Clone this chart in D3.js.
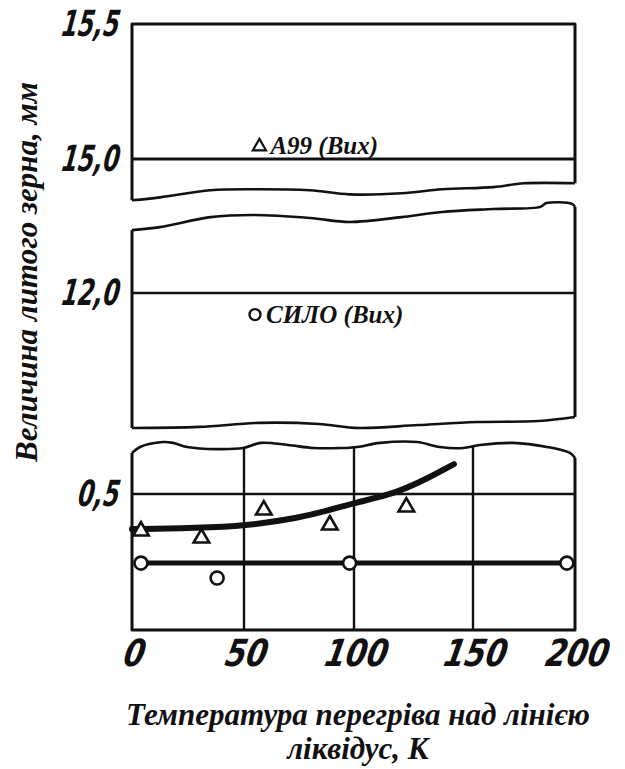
<!DOCTYPE html>
<html>
<head>
  <meta charset="utf-8">
  <title>Величина литого зерна</title>
  <style>
    body { margin: 0; background: #fff; }
    svg { display: block; background: #fff; }
  </style>
</head>
<body>
<svg width="625" height="769"></svg>
<script src="https://cdn.jsdelivr.net/npm/d3@7/dist/d3.min.js"></script>
<script>
// --- дані ---
var xTicks = [0, 50, 100, 150, 200];
var topTicks = [15.0, 15.5];
var midTicks = [12.0];
var botTicks = [0.5];

// А99 (трикутники)
var a99X = [4, 31, 59, 89, 122];
var a99Y = [0.364, 0.338, 0.441, 0.386, 0.452];
// СИЛО (кола)
var siloX = [4, 38, 98, 196];
var siloY = [0.246, 0.191, 0.246, 0.246];

// апроксимуючі лінії
var a99FitX = [0, 30, 50, 75, 89, 100, 115, 128, 142];
var a99FitY = [0.371, 0.375, 0.382, 0.412, 0.441, 0.467, 0.496, 0.544, 0.61];
var siloFitX = [4, 196];
var siloFitY = [0.246, 0.246];

// вихідна величина зерна
var initX = [57, 55];
var initY = [15.05, 11.92];
var initLabels = ["А99 (Вих)", "СИЛО (Вих)"];

// лінії розриву осі (в одиницях осей)
var topWaveX = [0, 12.5, 35, 54, 80, 98, 120, 137, 160, 175, 200];
var topWaveY = [14.847, 14.858, 14.884, 14.888, 14.884, 14.869, 14.873, 14.888, 14.896, 14.91, 14.91];
var midTopWaveX = [0, 12.5, 35, 54, 80, 98, 120, 137, 160, 183, 186, 198.5, 200];
var midTopWaveY = [12.233, 12.244, 12.281, 12.289, 12.278, 12.263, 12.281, 12.3, 12.311, 12.319, 12.333, 12.33, 12.319];
var midBotWaveX = [0, 30, 57, 84, 102, 127, 152, 182, 200];
var midBotWaveY = [11.5, 11.504, 11.519, 11.515, 11.5, 11.511, 11.522, 11.526, 11.541];
var botWaveX = [0, 3.6, 13.8, 18.3, 24.6, 37.9, 49.6, 57.7, 70, 81.8, 94, 101.3, 111, 126.5, 136, 145.8, 153.4, 169.6, 186.3, 197.5, 200];
var botWaveY = [0.651, 0.673, 0.691, 0.688, 0.673, 0.665, 0.669, 0.688, 0.68, 0.669, 0.669, 0.673, 0.688, 0.691, 0.673, 0.669, 0.68, 0.688, 0.673, 0.651, 0.632];

// --- шкали ---
var svg = d3.select("svg");

var x = d3.scaleLinear().domain(xTicks).range([132, 244, 354, 473, 575]);
var yTop = d3.scaleLinear().domain([15.0, 15.5]).range([159, 24]);
var yMid = d3.scaleLinear().domain([11.5, 12.0]).range([428, 293]);
var yBot = d3.scaleLinear().domain([0, 0.5]).range([630, 494]);

function zip(a, b) { return a.map(function(v, i) { return [v, b[i]]; }); }

function lineFor(ys, curve) {
  return d3.line()
    .x(function(d) { return x(d[0]); })
    .y(function(d) { return ys(d[1]); })
    .curve(curve || d3.curveLinear);
}

var ink = "#111";

// --- верхня панель ---
var gTop = svg.append("g");
var topWaveAt = d3.scaleLinear().domain(topWaveX).range(topWaveY);
gTop.append("path")
  .attr("d", lineFor(yTop)([[0, topWaveAt(0)], [0, 15.5], [200, 15.5], [200, topWaveAt(200)]]))
  .attr("fill", "none").attr("stroke", ink).attr("stroke-width", 3).attr("stroke-linejoin", "round");
gTop.append("path")
  .attr("d", lineFor(yTop, d3.curveCatmullRom)(zip(topWaveX, topWaveY)))
  .attr("fill", "none").attr("stroke", ink).attr("stroke-width", 2.6);
gTop.append("path")
  .attr("d", lineFor(yTop)([[0, 15.0], [200, 15.0]]))
  .attr("stroke", ink).attr("stroke-width", 3);

// --- середня панель ---
var gMid = svg.append("g");
var midTopAt = d3.scaleLinear().domain(midTopWaveX).range(midTopWaveY);
var midBotAt = d3.scaleLinear().domain(midBotWaveX).range(midBotWaveY);
gMid.append("path")
  .attr("d", lineFor(yMid)([[0, midTopAt(0)], [0, midBotAt(0)]]))
  .attr("stroke", ink).attr("stroke-width", 3);
gMid.append("path")
  .attr("d", lineFor(yMid)([[200, midTopAt(200)], [200, midBotAt(200)]]))
  .attr("stroke", ink).attr("stroke-width", 3);
gMid.append("path")
  .attr("d", lineFor(yMid, d3.curveCatmullRom)(zip(midTopWaveX, midTopWaveY)))
  .attr("fill", "none").attr("stroke", ink).attr("stroke-width", 2.6);
gMid.append("path")
  .attr("d", lineFor(yMid, d3.curveCatmullRom)(zip(midBotWaveX, midBotWaveY)))
  .attr("fill", "none").attr("stroke", ink).attr("stroke-width", 2.6);
gMid.append("path")
  .attr("d", lineFor(yMid)([[0, 12.0], [200, 12.0]]))
  .attr("stroke", ink).attr("stroke-width", 2.6);

// --- нижня панель ---
var gBot = svg.append("g");
var botWaveAt = d3.scaleLinear().domain(botWaveX).range(botWaveY);
gBot.append("path")
  .attr("d", lineFor(yBot)([[0, botWaveAt(0)], [0, 0], [200, 0], [200, botWaveAt(200)]]))
  .attr("fill", "none").attr("stroke", ink).attr("stroke-width", 3).attr("stroke-linejoin", "round");
gBot.append("path")
  .attr("d", lineFor(yBot, d3.curveCatmullRom)(zip(botWaveX, botWaveY)))
  .attr("fill", "none").attr("stroke", ink).attr("stroke-width", 2.6);
// сітка
gBot.selectAll(".vgrid")
  .data([50, 100, 150])
  .enter().append("path")
  .attr("class", "vgrid")
  .attr("d", function(d) { return lineFor(yBot)([[d, 0], [d, botWaveAt(d)]]); })
  .attr("stroke", ink).attr("stroke-width", 2.4);
gBot.selectAll(".hgrid")
  .data(botTicks)
  .enter().append("path")
  .attr("class", "hgrid")
  .attr("d", function(d) { return lineFor(yBot)([[0, d], [200, d]]); })
  .attr("stroke", ink).attr("stroke-width", 2.4);

// апроксимуючі лінії
gBot.append("path")
  .attr("d", lineFor(yBot)(zip(siloFitX, siloFitY)))
  .attr("fill", "none").attr("stroke", ink).attr("stroke-width", 5);
gBot.append("path")
  .attr("d", lineFor(yBot, d3.curveBasis)(zip(a99FitX, a99FitY)))
  .attr("fill", "none").attr("stroke", ink).attr("stroke-width", 6).attr("stroke-linecap", "round");

// точки
var tri = d3.symbol().type(d3.symbolTriangle).size(105);
gBot.selectAll(".a99")
  .data(zip(a99X, a99Y))
  .enter().append("path")
  .attr("class", "a99")
  .attr("d", tri)
  .attr("transform", function(d) { return "translate(" + x(d[0]) + "," + yBot(d[1]) + ")"; })
  .attr("fill", "#fff").attr("stroke", ink).attr("stroke-width", 2.6);
gBot.selectAll(".silo")
  .data(zip(siloX, siloY))
  .enter().append("circle")
  .attr("class", "silo")
  .attr("cx", function(d) { return x(d[0]); })
  .attr("cy", function(d) { return yBot(d[1]); })
  .attr("r", 6.5)
  .attr("fill", "#fff").attr("stroke", ink).attr("stroke-width", 2.6);

// вихідні точки з підписами
var initScales = [yTop, yMid];
initX.forEach(function(v, i) {
  var px = x(v), py = initScales[i](initY[i]);
  if (i === 0) {
    svg.append("path").attr("d", d3.symbol().type(d3.symbolTriangle).size(75))
      .attr("transform", "translate(" + px + "," + (py + 1) + ")")
      .attr("fill", "#fff").attr("stroke", ink).attr("stroke-width", 2.2);
  } else {
    svg.append("circle").attr("cx", px).attr("cy", py).attr("r", 5.5)
      .attr("fill", "#fff").attr("stroke", ink).attr("stroke-width", 2.4);
  }
  svg.append("text")
    .attr("x", px + 11)
    .attr("y", py + 8)
    .attr("font-family", "'Liberation Serif', 'Times New Roman', serif")
    .attr("font-style", "italic")
    .attr("font-weight", "bold")
    .attr("font-size", 25)
    .attr("fill", ink)
    .text(initLabels[i]);
});

// --- осі ---
var fmt = function(d) { return d3.format(".1f")(d).replace(".", ","); };
var tickFont = "'DejaVu Sans', sans-serif";

function styleTicks(g, tf) {
  g.select(".domain").remove();
  g.selectAll(".tick line").remove();
  g.attr("font-family", null).attr("font-size", null);
  g.selectAll("text")
    .attr("font-family", tickFont)
    .attr("font-style", "italic")
    .attr("font-weight", "bold")
    .attr("font-size", 30)
    .attr("fill", ink)
    .attr("transform", tf);
}

svg.append("g")
  .attr("transform", "translate(0,630)")
  .call(d3.axisBottom(x).tickValues(xTicks).tickSize(0).tickPadding(0).tickFormat(d3.format("d")))
  .call(function(g) {
    styleTicks(g, "translate(0,36) scale(1,1.25) skewX(-14)");
    g.selectAll("text").attr("y", 0).attr("dy", 0);
  });

[[yTop, topTicks], [yMid, midTicks], [yBot, botTicks]].forEach(function(p) {
  svg.append("g")
    .attr("transform", "translate(120,0)")
    .call(d3.axisLeft(p[0]).tickValues(p[1]).tickSize(0).tickPadding(0).tickFormat(fmt))
    .call(function(g) { styleTicks(g, "scale(0.78,1.2) skewX(-12)"); });
});

// назви осей
var titleFont = "'Liberation Serif', 'Times New Roman', serif";
svg.append("text")
  .attr("transform", "translate(37,272) rotate(-90)")
  .attr("text-anchor", "middle")
  .attr("font-family", titleFont)
  .attr("font-style", "italic")
  .attr("font-weight", "bold")
  .attr("font-size", 31)
  .attr("fill", ink)
  .text("Величина литого зерна, мм");

var xTitle = ["Температура перегріва над лінією", "ліквідус, К"];
svg.selectAll(".xtitle")
  .data(xTitle)
  .enter().append("text")
  .attr("class", "xtitle")
  .attr("x", 358)
  .attr("y", function(d, i) { return 725 + i * 34; })
  .attr("text-anchor", "middle")
  .attr("font-family", titleFont)
  .attr("font-style", "italic")
  .attr("font-weight", "bold")
  .attr("font-size", 31)
  .attr("fill", ink)
  .text(function(d) { return d; });
</script>
</body>
</html>
